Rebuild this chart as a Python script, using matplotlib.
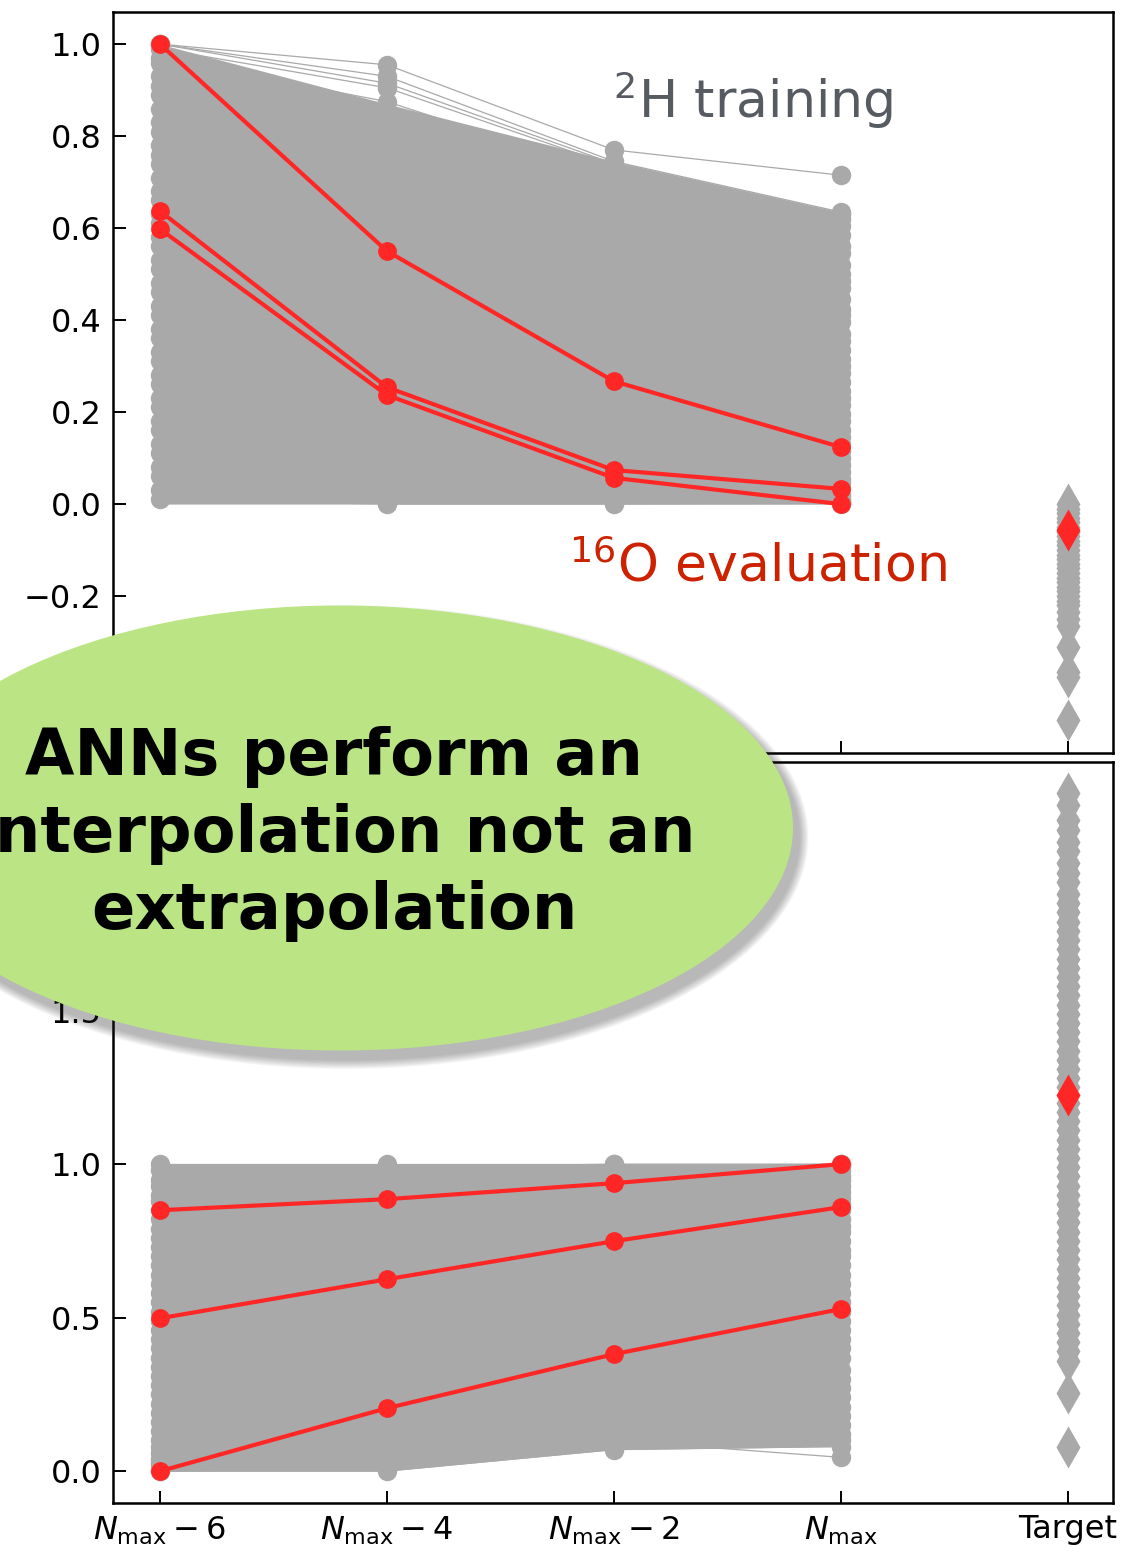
import matplotlib
matplotlib.use("Agg")
import matplotlib.pyplot as plt
from matplotlib.patches import Ellipse

plt.rcParams['font.family'] = ['DejaVu Sans']
plt.rcParams['mathtext.fontset'] = 'dejavusans'

# ---- data ----
x_nodes = [0, 1, 2, 3]
x_target = 4
x_labels = [r'$N_{\rm max}-6$', r'$N_{\rm max}-4$', r'$N_{\rm max}-2$', r'$N_{\rm max}$', 'Target']

# 2H training curves (upper panel), values at Nmax-6, -4, -2, Nmax
train_top = [
    [1.00, 0.955, 0.770, 0.715],
    [1.00, 0.930, 0.745, 0.635],
    [1.00, 0.915, 0.740, 0.630],
    [0.99, 0.905, 0.735, 0.620],
    [0.97, 0.875, 0.715, 0.605],
    [0.96, 0.850, 0.690, 0.585],
    [0.93, 0.830, 0.665, 0.560],
    [0.91, 0.795, 0.645, 0.545],
    [0.89, 0.770, 0.625, 0.520],
    [0.86, 0.745, 0.600, 0.500],
    [0.83, 0.720, 0.575, 0.485],
    [0.81, 0.690, 0.560, 0.470],
    [0.78, 0.665, 0.530, 0.445],
    [0.76, 0.640, 0.515, 0.425],
    [0.74, 0.610, 0.490, 0.410],
    [0.71, 0.590, 0.465, 0.395],
    [0.68, 0.560, 0.445, 0.370],
    [0.66, 0.535, 0.425, 0.355],
    [0.63, 0.505, 0.400, 0.335],
    [0.61, 0.485, 0.375, 0.315],
    [0.58, 0.460, 0.360, 0.300],
    [0.56, 0.430, 0.335, 0.285],
    [0.53, 0.405, 0.315, 0.265],
    [0.51, 0.380, 0.290, 0.245],
    [0.48, 0.355, 0.275, 0.230],
    [0.46, 0.330, 0.255, 0.215],
    [0.43, 0.305, 0.235, 0.195],
    [0.41, 0.280, 0.215, 0.180],
    [0.38, 0.255, 0.195, 0.160],
    [0.36, 0.230, 0.175, 0.145],
    [0.33, 0.205, 0.155, 0.130],
    [0.31, 0.180, 0.135, 0.115],
    [0.28, 0.155, 0.120, 0.100],
    [0.26, 0.135, 0.100, 0.085],
    [0.23, 0.110, 0.085, 0.070],
    [0.21, 0.090, 0.070, 0.055],
    [0.18, 0.070, 0.055, 0.045],
    [0.16, 0.050, 0.040, 0.035],
    [0.13, 0.035, 0.025, 0.020],
    [0.11, 0.020, 0.015, 0.010],
    [0.08, 0.010, 0.008, 0.006],
    [0.06, 0.005, 0.004, 0.003],
    [0.03, 0.002, 0.002, 0.002],
    [0.01, 0.000, 0.000, 0.001],
]
train_top_hi = [1.00, 0.87, 0.745, 0.635]
train_top_lo = [0.00, 0.00, 0.000, 0.000]

# 16O evaluation curves (upper panel)
eval_top = [
    [1.000, 0.550, 0.267, 0.124],
    [0.637, 0.254, 0.074, 0.033],
    [0.598, 0.237, 0.057, 0.000],
]
target_top = [0.00, -0.01, -0.02, -0.03, -0.04, -0.05, -0.06, -0.07, -0.08,
              -0.09, -0.10, -0.11, -0.12, -0.13, -0.14, -0.15, -0.16, -0.17,
              -0.18, -0.19, -0.20, -0.21, -0.22, -0.235, -0.25, -0.265,
              -0.31, -0.365, -0.375, -0.47]
target_top_eval = -0.057

# lower panel
train_bot = [
    [1.00, 1.00, 1.00, 1.00],
    [0.98, 0.99, 1.00, 1.00],
    [0.95, 0.97, 0.99, 1.00],
    [0.93, 0.95, 0.97, 0.99],
    [0.90, 0.92, 0.95, 0.98],
    [0.88, 0.90, 0.93, 0.96],
    [0.85, 0.87, 0.91, 0.95],
    [0.82, 0.85, 0.89, 0.93],
    [0.79, 0.82, 0.86, 0.91],
    [0.76, 0.79, 0.84, 0.89],
    [0.73, 0.77, 0.81, 0.87],
    [0.70, 0.74, 0.79, 0.85],
    [0.67, 0.71, 0.76, 0.82],
    [0.64, 0.68, 0.73, 0.80],
    [0.61, 0.65, 0.71, 0.78],
    [0.58, 0.62, 0.68, 0.75],
    [0.55, 0.59, 0.65, 0.72],
    [0.52, 0.56, 0.62, 0.70],
    [0.49, 0.53, 0.59, 0.67],
    [0.46, 0.50, 0.56, 0.64],
    [0.43, 0.47, 0.53, 0.61],
    [0.40, 0.44, 0.50, 0.58],
    [0.37, 0.41, 0.47, 0.55],
    [0.34, 0.38, 0.44, 0.52],
    [0.31, 0.35, 0.41, 0.49],
    [0.28, 0.32, 0.38, 0.46],
    [0.25, 0.29, 0.35, 0.43],
    [0.22, 0.26, 0.32, 0.40],
    [0.19, 0.23, 0.29, 0.37],
    [0.16, 0.20, 0.26, 0.33],
    [0.13, 0.17, 0.23, 0.30],
    [0.10, 0.14, 0.20, 0.27],
    [0.08, 0.11, 0.17, 0.24],
    [0.06, 0.08, 0.14, 0.21],
    [0.04, 0.06, 0.12, 0.18],
    [0.02, 0.04, 0.10, 0.15],
    [0.01, 0.02, 0.09, 0.12],
    [0.00, 0.01, 0.08, 0.10],
    [0.00, 0.00, 0.07, 0.08],
    [0.03, 0.02, 0.10, 0.045],
]
train_bot_hi = [1.00, 1.00, 1.00, 1.00]
train_bot_lo = [0.00, 0.00, 0.07, 0.08]

eval_bot = [
    [0.850, 0.886, 0.938, 1.000],
    [0.498, 0.625, 0.749, 0.860],
    [0.000, 0.205, 0.381, 0.528],
]
target_bot = [2.21, 2.17, 2.12, 2.09, 2.05, 2.02, 1.98, 1.95, 1.92, 1.88,
              1.85, 1.82, 1.79, 1.76, 1.73, 1.70, 1.67, 1.64, 1.61, 1.58,
              1.55, 1.52, 1.49, 1.46, 1.43, 1.40, 1.37, 1.34, 1.31, 1.28,
              1.25, 1.20, 1.17, 1.14, 1.11, 1.08, 1.05, 1.02, 0.99, 0.96,
              0.93, 0.90, 0.87, 0.84, 0.81, 0.78, 0.75, 0.72, 0.69, 0.66,
              0.63, 0.60, 0.57, 0.54, 0.51, 0.48, 0.45, 0.42, 0.39, 0.36,
              0.255, 0.078]
target_bot_eval = 1.225

GRAY = '#a9a9a9'
RED = '#ff2626'

fig = plt.figure(figsize=(11.37, 15.47), dpi=100)
ax_top = fig.add_axes([0.0994, 0.5133, 0.8795, 0.479])
ax_bot = fig.add_axes([0.0994, 0.0284, 0.8795, 0.479])


def draw_panel(ax, train, hi, lo, evals, targets, target_eval):
    ax.fill_between(x_nodes, lo, hi, color=GRAY, lw=0, zorder=1)
    for row in train:
        ax.plot(x_nodes, row, color=GRAY, lw=0.9, marker='o', ms=14,
                mec='none', zorder=2)
    ax.plot([x_target] * len(targets), targets, ls='none', marker='d',
            ms=21, color=GRAY, mec='none', zorder=2)
    for row in evals:
        ax.plot(x_nodes, row, color=RED, lw=3.0, marker='o', ms=13.5,
                mec='none', zorder=4)
    ax.plot([x_target], [target_eval], ls='none', marker='d', ms=21,
            color=RED, mec='none', zorder=4)
    ax.set_xlim(-0.207, 4.2)
    ax.set_xticks(x_nodes + [x_target])
    ax.tick_params(direction='in', length=9, width=1.4, labelsize=23, pad=8)
    for s in ax.spines.values():
        s.set_linewidth(1.8)


draw_panel(ax_top, train_top, train_top_hi, train_top_lo, eval_top,
           target_top, target_top_eval)
ax_top.set_ylim(-0.541, 1.07)
ax_top.set_yticks([-0.4, -0.2, 0.0, 0.2, 0.4, 0.6, 0.8, 1.0])
ax_top.set_xticklabels([])

draw_panel(ax_bot, train_bot, train_bot_hi, train_bot_lo, eval_bot,
           target_bot, target_bot_eval)
ax_bot.set_ylim(-0.104, 2.31)
ax_bot.set_yticks([0.0, 0.5, 1.0, 1.5, 2.0])
ax_bot.set_xticklabels(x_labels)

# labels inside the upper panel
fig.text(613 / 1137, 1 - 118 / 1547, r'$^{2}$H training', fontsize=37.5,
         color='#565b62', ha='left', va='baseline')
fig.text(569 / 1137, 1 - 582 / 1547, r'$^{16}$O evaluation', fontsize=37.5,
         color='#cc2200', ha='left', va='baseline')

# green callout with soft shadow (offset down-right)
cx, cy = 340 / 1137, 1 - 828 / 1547
ew, eh = 906 / 1137, 445 / 1547
for k in range(12):
    grow = (12 - k) * 1.6
    fig.add_artist(Ellipse((cx + 6 / 1137, cy - 9 / 1547),
                           ew + grow / 1137, eh + grow / 1547,
                           transform=fig.transFigure, color='#303030',
                           alpha=0.03, lw=0, zorder=5))
fig.add_artist(Ellipse((cx, cy), ew, eh, transform=fig.transFigure,
                       facecolor='#bbe585', edgecolor='none', zorder=6))
fig.text(334 / 1137, 1 - 834 / 1547,
         'ANNs perform an\ninterpolation not an\nextrapolation',
         fontsize=46, fontweight='bold', color='black', ha='center',
         va='center', linespacing=1.3, zorder=7)

fig.savefig('out.png', dpi=100)
